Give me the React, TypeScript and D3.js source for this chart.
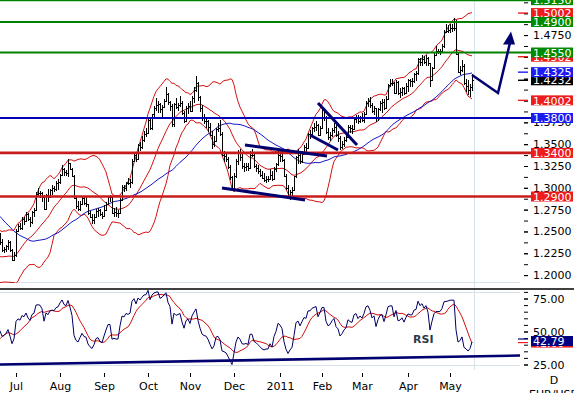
import { useEffect, useRef } from 'react'
import * as d3 from 'd3'

type Bar = [number, number, number] // high, low, close

// closes before the first drawn bar, only used to warm up the indicators
const preCloses = [
  1.3480, 1.3600, 1.3630, 1.3650, 1.3530, 1.3470, 1.3450, 1.3430, 1.3380, 1.3300,
  1.3380, 1.3390, 1.3180, 1.3180, 1.3250, 1.3300, 1.3180, 1.2990, 1.2850, 1.2630,
  1.2750, 1.2800, 1.2670, 1.2640, 1.2570, 1.2390, 1.2370, 1.2230, 1.2400, 1.2520,
  1.2560, 1.2350, 1.2370, 1.2200, 1.2360, 1.2270, 1.2280, 1.2230, 1.2230, 1.2170,
  1.1960, 1.1920, 1.1970, 1.2000, 1.2110, 1.2120, 1.2270, 1.2340, 1.2300, 1.2380,
  1.2390,
]

const firstDay = new Date(2010, 5, 21)

const jun10: Bar[] = [
  [1.2485, 1.2345, 1.2375], [1.2410, 1.2270, 1.2290], [1.2320, 1.2250, 1.2300], [1.2350, 1.2270, 1.2330],
  [1.2405, 1.2290, 1.2380], [1.2385, 1.2270, 1.2290], [1.2300, 1.2160, 1.2170], [1.2270, 1.2160, 1.2230],
]
const jul10: Bar[] = [
  [1.2530, 1.2210, 1.2510], [1.2590, 1.2490, 1.2565], [1.2595, 1.2520, 1.2545], [1.2670, 1.2520, 1.2640],
  [1.2670, 1.2570, 1.2625], [1.2720, 1.2610, 1.2700], [1.2710, 1.2620, 1.2640], [1.2660, 1.2550, 1.2610],
  [1.2730, 1.2580, 1.2720], [1.2765, 1.2670, 1.2745], [1.2950, 1.2730, 1.2930], [1.3000, 1.2890, 1.2940],
  [1.2960, 1.2880, 1.2935], [1.2950, 1.2840, 1.2900], [1.2920, 1.2750, 1.2760], [1.2930, 1.2760, 1.2920],
  [1.2990, 1.2840, 1.2900], [1.2990, 1.2880, 1.2980], [1.3030, 1.2920, 1.2995], [1.3020, 1.2950, 1.2990],
  [1.3080, 1.2960, 1.3050], [1.3100, 1.2980, 1.3065],
]
const aug10: Bar[] = [
  [1.3160, 1.3040, 1.3150], [1.3260, 1.3130, 1.3220], [1.3230, 1.3140, 1.3180], [1.3200, 1.3130, 1.3170],
  [1.3333, 1.3120, 1.3280], [1.3290, 1.3200, 1.3220], [1.3230, 1.3120, 1.3140], [1.3150, 1.2870, 1.2880],
  [1.2900, 1.2760, 1.2790], [1.2850, 1.2740, 1.2760], [1.2850, 1.2730, 1.2820], [1.2900, 1.2800, 1.2880],
  [1.2890, 1.2800, 1.2830], [1.2890, 1.2780, 1.2820], [1.2820, 1.2690, 1.2710], [1.2730, 1.2650, 1.2660],
  [1.2700, 1.2590, 1.2630], [1.2700, 1.2590, 1.2670], [1.2760, 1.2650, 1.2740], [1.2770, 1.2660, 1.2750],
  [1.2760, 1.2680, 1.2700], [1.2720, 1.2640, 1.2680],
]
const sep10: Bar[] = [
  [1.2800, 1.2670, 1.2750], [1.2840, 1.2730, 1.2820], [1.2910, 1.2800, 1.2890], [1.2920, 1.2840, 1.2890],
  [1.2900, 1.2700, 1.2710], [1.2770, 1.2660, 1.2720], [1.2780, 1.2670, 1.2710], [1.2750, 1.2650, 1.2710],
  [1.2880, 1.2700, 1.2860], [1.3030, 1.2850, 1.3010], [1.3030, 1.2950, 1.3000], [1.3070, 1.2960, 1.3060],
  [1.3110, 1.3030, 1.3050], [1.3100, 1.3000, 1.3070], [1.3330, 1.3040, 1.3310], [1.3400, 1.3300, 1.3380],
  [1.3390, 1.3300, 1.3330], [1.3500, 1.3320, 1.3490], [1.3520, 1.3420, 1.3470], [1.3590, 1.3440, 1.3550],
  [1.3650, 1.3520, 1.3620], [1.3680, 1.3580, 1.3630],
]
const oct10: Bar[] = [
  [1.3790, 1.3620, 1.3780], [1.3790, 1.3660, 1.3690], [1.3850, 1.3660, 1.3840], [1.3940, 1.3800, 1.3920],
  [1.4030, 1.3880, 1.3950], [1.3990, 1.3860, 1.3960], [1.3970, 1.3860, 1.3900], [1.3950, 1.3810, 1.3930],
  [1.4020, 1.3920, 1.4000], [1.4160, 1.3990, 1.4070], [1.4090, 1.3950, 1.3980], [1.3990, 1.3880, 1.3940],
  [1.3960, 1.3700, 1.3730], [1.3970, 1.3700, 1.3960], [1.4030, 1.3900, 1.3930], [1.3970, 1.3880, 1.3950],
  [1.4050, 1.3930, 1.3970], [1.3990, 1.3830, 1.3860], [1.3880, 1.3740, 1.3770], [1.3940, 1.3760, 1.3910],
  [1.3970, 1.3850, 1.3940],
]
const nov10: Bar[] = [
  [1.3990, 1.3870, 1.3880], [1.4050, 1.3880, 1.4030], [1.4150, 1.3970, 1.4120], [1.4282, 1.4100, 1.4200],
  [1.4210, 1.4000, 1.4040], [1.4050, 1.3870, 1.3910], [1.3950, 1.3770, 1.3800], [1.3850, 1.3730, 1.3770],
  [1.3810, 1.3690, 1.3760], [1.3780, 1.3640, 1.3700], [1.3740, 1.3590, 1.3600], [1.3650, 1.3450, 1.3500],
  [1.3590, 1.3470, 1.3540], [1.3690, 1.3530, 1.3670], [1.3740, 1.3640, 1.3680], [1.3780, 1.3590, 1.3620],
  [1.3640, 1.3360, 1.3380], [1.3420, 1.3300, 1.3360], [1.3390, 1.3300, 1.3330], [1.3350, 1.3220, 1.3240],
  [1.3260, 1.3090, 1.3120], [1.3130, 1.2970, 1.2990],
]
const dec10: Bar[] = [
  [1.3170, 1.2990, 1.3140], [1.3330, 1.3110, 1.3310], [1.3430, 1.3260, 1.3400], [1.3440, 1.3310, 1.3350],
  [1.3400, 1.3220, 1.3250], [1.3290, 1.3180, 1.3240], [1.3280, 1.3190, 1.3250], [1.3280, 1.3190, 1.3230],
  [1.3420, 1.3220, 1.3380], [1.3450, 1.3350, 1.3380], [1.3400, 1.3230, 1.3250], [1.3270, 1.3180, 1.3230],
  [1.3260, 1.3160, 1.3190], [1.3220, 1.3120, 1.3150], [1.3190, 1.3100, 1.3110], [1.3170, 1.3070, 1.3090],
  [1.3140, 1.3060, 1.3100], [1.3130, 1.3070, 1.3100], [1.3210, 1.3090, 1.3150], [1.3190, 1.3080, 1.3100],
  [1.3240, 1.3090, 1.3210], [1.3280, 1.3180, 1.3270], [1.3430, 1.3250, 1.3380],
]
const jan11: Bar[] = [
  [1.3400, 1.3300, 1.3360], [1.3440, 1.3300, 1.3320], [1.3330, 1.3120, 1.3140], [1.3160, 1.2980, 1.3000],
  [1.3030, 1.2880, 1.2910], [1.2980, 1.2860, 1.2950], [1.3010, 1.2910, 1.2980], [1.3140, 1.2960, 1.3130],
  [1.3370, 1.3110, 1.3350], [1.3440, 1.3270, 1.3380], [1.3400, 1.3270, 1.3310], [1.3420, 1.3290, 1.3390],
  [1.3490, 1.3380, 1.3470], [1.3510, 1.3380, 1.3460], [1.3630, 1.3440, 1.3620], [1.3660, 1.3560, 1.3620],
  [1.3700, 1.3580, 1.3680], [1.3740, 1.3640, 1.3700], [1.3760, 1.3650, 1.3720], [1.3730, 1.3590, 1.3610],
  [1.3710, 1.3590, 1.3690],
]
const feb11: Bar[] = [
  [1.3900, 1.3680, 1.3800], [1.3880, 1.3760, 1.3800], [1.3820, 1.3620, 1.3640], [1.3690, 1.3550, 1.3580],
  [1.3640, 1.3540, 1.3600], [1.3690, 1.3580, 1.3660], [1.3740, 1.3630, 1.3700], [1.3720, 1.3580, 1.3600],
  [1.3650, 1.3530, 1.3570], [1.3590, 1.3430, 1.3470], [1.3540, 1.3450, 1.3500], [1.3580, 1.3470, 1.3550],
  [1.3620, 1.3520, 1.3580], [1.3720, 1.3570, 1.3700], [1.3720, 1.3630, 1.3680], [1.3720, 1.3620, 1.3670],
  [1.3800, 1.3660, 1.3790], [1.3830, 1.3740, 1.3810], [1.3830, 1.3730, 1.3760], [1.3820, 1.3740, 1.3800],
]
const mar11: Bar[] = [
  [1.3860, 1.3750, 1.3780], [1.3870, 1.3740, 1.3850], [1.3990, 1.3830, 1.3970], [1.4030, 1.3930, 1.3990],
  [1.4040, 1.3920, 1.3950], [1.3970, 1.3860, 1.3880], [1.3940, 1.3830, 1.3910], [1.3920, 1.3750, 1.3800],
  [1.3920, 1.3770, 1.3900], [1.4000, 1.3880, 1.3970], [1.4020, 1.3860, 1.3980], [1.4020, 1.3890, 1.3910],
  [1.4050, 1.3900, 1.4020], [1.4190, 1.4010, 1.4180], [1.4250, 1.4160, 1.4200], [1.4250, 1.4170, 1.4200],
  [1.4210, 1.4070, 1.4090], [1.4240, 1.4070, 1.4210], [1.4220, 1.4060, 1.4090], [1.4140, 1.4030, 1.4100],
  [1.4160, 1.4050, 1.4140], [1.4150, 1.4060, 1.4090], [1.4200, 1.4080, 1.4170],
]
const apr11: Bar[] = [
  [1.4250, 1.4100, 1.4230], [1.4250, 1.4160, 1.4220], [1.4260, 1.4150, 1.4220], [1.4320, 1.4200, 1.4300],
  [1.4340, 1.4220, 1.4310], [1.4490, 1.4290, 1.4480], [1.4490, 1.4400, 1.4440], [1.4520, 1.4400, 1.4480],
  [1.4510, 1.4420, 1.4440], [1.4520, 1.4400, 1.4490], [1.4500, 1.4390, 1.4430], [1.4430, 1.4160, 1.4230],
  [1.4380, 1.4220, 1.4370], [1.4540, 1.4360, 1.4520], [1.4620, 1.4510, 1.4570], [1.4590, 1.4530, 1.4570],
  [1.4590, 1.4520, 1.4570], [1.4650, 1.4540, 1.4630], [1.4810, 1.4600, 1.4790], [1.4880, 1.4770, 1.4800],
  [1.4860, 1.4770, 1.4810],
]
const may11: Bar[] = [
  [1.4880, 1.4770, 1.4830], [1.4880, 1.4790, 1.4830], [1.4940, 1.4800, 1.4830], [1.4920, 1.4520, 1.4530],
  [1.4560, 1.4310, 1.4330], [1.4400, 1.4290, 1.4350], [1.4460, 1.4330, 1.4400], [1.4420, 1.4180, 1.4200],
  [1.4250, 1.4100, 1.4170], [1.4230, 1.4060, 1.4120], [1.4190, 1.4040, 1.4150], [1.4300, 1.4110, 1.4232],
]
const months = [jun10, jul10, aug10, sep10, oct10, nov10, dec10, jan11, feb11, mar11, apr11, may11]
const monthLabels = ['Jul', 'Aug', 'Sep', 'Oct', 'Nov', 'Dec', '2011', 'Feb', 'Mar', 'Apr', 'May']

// support / resistance lines
const levelValues = [1.5150, 1.4900, 1.4550, 1.3800, 1.3400, 1.2900]
const levelColors = ['#008200', '#008200', '#008200', '#0000b4', '#c81c1c', '#c81c1c']
const levelBoxColors = ['#008a00', '#008a00', '#008a00', '#1c1cf0', '#ee1c1c', '#ee1c1c']

// last values of the indicators shown on the price axis
const lastValues = [1.5002, 1.4502, 1.4002, 1.4232, 1.4325]
const lastColors = ['#ee1c1c', '#ee1c1c', '#ee1c1c', '#000000', '#1c1cf0']

const priceTicks = [1.2, 1.225, 1.25, 1.275, 1.3, 1.325, 1.35, 1.375, 1.4, 1.425, 1.45, 1.475, 1.5]
const rsiTicks = [25, 50, 75]
const rsiLast = [41.6, 42.79]
const rsiLastColors = ['#ee1c1c', '#000080']

// hand drawn trend lines as [bar index, price]
const trendLines: [number, number][][] = [
  [[122.5, 1.3490], [163.5, 1.3365]],
  [[111, 1.2998], [152.5, 1.2861]],
  [[159, 1.3972], [178.5, 1.3491]],
  [[155, 1.3605], [169, 1.3433]],
]
const arrowPoints: [number, number][] = [[236, 1.4292], [249, 1.4086], [255.5, 1.4790]]
const rsiTrend: [number, number][] = [[0, 25.0], [260, 31.8]]

function sma(v: (number | null)[], n: number) {
  return v.map((_, i) => {
    if (i < n - 1) return null
    const s = v.slice(i - n + 1, i + 1)
    if (s.some(x => x == null)) return null
    return d3.mean(s as number[]) as number
  })
}

function stdev(v: number[], n: number) {
  return v.map((_, i) => {
    if (i < n - 1) return null
    const s = v.slice(i - n + 1, i + 1)
    const m = d3.mean(s) as number
    return Math.sqrt(d3.mean(s, x => (x - m) * (x - m)) as number)
  })
}

function rsi(c: number[], n: number) {
  const out: (number | null)[] = c.map(() => null)
  let ag = 0, al = 0
  for (let i = 1; i < c.length; i++) {
    const ch = c[i] - c[i - 1]
    const g = Math.max(ch, 0), l = Math.max(-ch, 0)
    if (i <= n) {
      ag += g; al += l
      if (i === n) { ag /= n; al /= n; out[i] = 100 - 100 / (1 + ag / al) }
    } else {
      ag = (ag * (n - 1) + g) / n
      al = (al * (n - 1) + l) / n
      out[i] = al === 0 ? 100 : 100 - 100 / (1 + ag / al)
    }
  }
  return out
}

const W = 574
const H = 393
const font = 'DejaVu Sans, Verdana, sans-serif'

export default function App() {
  const svgRef = useRef<SVGSVGElement>(null)

  useEffect(() => {
    if (!svgRef.current) return
    const svg = d3.select(svgRef.current)
    svg.selectAll('*').remove()

    const bars = months.flat()
    const all = [...preCloses, ...bars.map(b => b[2])]
    const off = preCloses.length
    const mid = sma(all, 20)
    const sd = stdev(all, 20)
    const ma = sma(all, 50)
    const r = rsi(all, 14)
    const sig = sma(r, 9)

    // trading days
    const dates: Date[] = []
    const d = new Date(firstDay)
    while (dates.length < bars.length) {
      if (d.getDay() % 6 !== 0) dates.push(new Date(d))
      d.setDate(d.getDate() + 1)
    }
    const monthStarts = dates.map((dt, i) => i).filter(i => i > 0 && dates[i].getMonth() !== dates[i - 1].getMonth())

    const x = d3.scaleLinear().domain([0, 263]).range([0, 526])
    const y = d3.scaleLinear().domain([1.2, 1.515]).range([275.1, 0.15])
    const yr = d3.scaleLinear().domain([25, 75]).range([364.5, 298.5])

    svg.append('rect').attr('width', W).attr('height', H).attr('fill', '#fff')

    const defs = svg.append('defs')
    defs.append('clipPath').attr('id', 'pclip').append('rect').attr('x', 0).attr('y', 0).attr('width', 532).attr('height', 283)
    defs.append('clipPath').attr('id', 'rclip').append('rect').attr('x', 0).attr('y', 290).attr('width', 532).attr('height', 80)

    // frame lines
    const light = '#d6e2ea'
    svg.append('line').attr('x1', 0).attr('x2', 520).attr('y1', 282.5).attr('y2', 282.5).attr('stroke', light)
    svg.append('line').attr('x1', 0).attr('x2', 520).attr('y1', 292.5).attr('y2', 292.5).attr('stroke', light)
    svg.append('line').attr('x1', 0).attr('x2', 520).attr('y1', 365.5).attr('y2', 365.5).attr('stroke', light)
    svg.append('line').attr('x1', 474.5).attr('x2', 474.5).attr('y1', 0).attr('y2', 370).attr('stroke', light)
    svg.append('line').attr('x1', 0).attr('x2', W).attr('y1', 289).attr('y2', 289).attr('stroke', '#000').attr('stroke-width', 1.6)

    const pg = svg.append('g').attr('clip-path', 'url(#pclip)')

    const vis = (arr: (number | null)[]) => arr.slice(off).map((v, i) => ({ i, v }))
    const line = d3.line<{ i: number; v: number | null }>()
      .defined(p => p.v != null)
      .x(p => x(p.i))
      .y(p => y(p.v as number))

    const upper = mid.map((m, i) => (m == null ? null : m + 2 * (sd[i] as number)))
    const lower = mid.map((m, i) => (m == null ? null : m - 2 * (sd[i] as number)))
    ;[upper, mid, lower].forEach(s => {
      pg.append('path').attr('d', line(vis(s))).attr('fill', 'none').attr('stroke', '#d41010').attr('stroke-width', 1)
    })
    pg.append('path').attr('d', line(vis(ma))).attr('fill', 'none').attr('stroke', '#1818c8').attr('stroke-width', 1)

    // OHLC bars
    const bg = pg.append('g').attr('stroke', '#000').attr('stroke-width', 1).attr('shape-rendering', 'crispEdges')
    bars.forEach((b, i) => {
      const open = i === 0 ? preCloses[preCloses.length - 1] : bars[i - 1][2]
      const cx = x(i) + 0.5
      bg.append('line').attr('x1', cx).attr('x2', cx).attr('y1', y(b[0])).attr('y2', y(b[1]))
      bg.append('line').attr('x1', cx - 1.5).attr('x2', cx).attr('y1', Math.round(y(open)) + 0.5).attr('y2', Math.round(y(open)) + 0.5)
      bg.append('line').attr('x1', cx).attr('x2', cx + 1.5).attr('y1', Math.round(y(b[2])) + 0.5).attr('y2', Math.round(y(b[2])) + 0.5)
    })

    // horizontal levels
    levelValues.forEach((v, k) => {
      svg.append('line').attr('x1', 0).attr('x2', 531).attr('y1', y(v)).attr('y2', y(v))
        .attr('stroke', levelColors[k]).attr('stroke-width', levelColors[k] === '#c81c1c' ? 2.6 : 2)
    })

    // drawn trend lines and arrow
    const pl = d3.line<[number, number]>().x(p => x(p[0])).y(p => y(p[1]))
    trendLines.forEach(t => {
      svg.append('path').attr('d', pl(t)).attr('fill', 'none').attr('stroke', '#000070').attr('stroke-width', 3)
    })
    svg.append('path').attr('d', pl(arrowPoints.slice(0, 2).concat([[arrowPoints[2][0], arrowPoints[2][1] - 0.008]])))
      .attr('fill', 'none').attr('stroke', '#000070').attr('stroke-width', 2.5).attr('stroke-linejoin', 'miter')
    const tip = arrowPoints[2]
    const tx = x(tip[0]), ty = y(tip[1])
    svg.append('path').attr('d', `M${tx},${ty} L${tx - 8},${ty + 13} L${tx + 4},${ty + 13} Z`).attr('fill', '#000070')

    // price axis
    const axisFont = (g: d3.Selection<SVGGElement, unknown, null, undefined>) => {
      g.attr('font-family', font).attr('font-size', 11)
      g.select('.domain').remove()
      g.selectAll('text').attr('fill', '#000')
      g.selectAll('line').attr('stroke', '#000')
    }
    svg.append('g').attr('transform', 'translate(524,0)')
      .call(d3.axisRight(y).tickValues(d3.range(1.2, 1.52, 0.0125)).tickSize(4).tickFormat(() => ''))
      .call(axisFont)
    svg.append('g').attr('transform', 'translate(524,0)')
      .call(d3.axisRight(y).tickValues(priceTicks).tickSize(4).tickPadding(5).tickFormat(d3.format('.4f')))
      .call(axisFont)

    const box = (cy: number, text: string, color: string) => {
      svg.append('rect').attr('x', 531).attr('y', cy - 5).attr('width', 42).attr('height', 10).attr('fill', color)
      svg.append('text').attr('x', 533).attr('y', cy + 4.2).attr('font-family', font).attr('font-size', 11)
        .attr('fill', '#fff').text(text)
    }
    lastValues.forEach((v, k) => {
      svg.append('line').attr('x1', 518).attr('x2', 528).attr('y1', y(v)).attr('y2', y(v))
        .attr('stroke', lastColors[k]).attr('stroke-width', 1.4)
    })
    lastValues.forEach((v, k) => box(y(v), v.toFixed(4), lastColors[k]))
    levelValues.forEach((v, k) => box(y(v), v.toFixed(4), levelBoxColors[k]))

    // RSI panel
    const rg = svg.append('g').attr('clip-path', 'url(#rclip)')
    const rl = d3.line<{ i: number; v: number | null }>()
      .defined(p => p.v != null)
      .x(p => x(p.i))
      .y(p => yr(p.v as number))
    rg.append('path').attr('d', rl(vis(sig))).attr('fill', 'none').attr('stroke', '#cc1010').attr('stroke-width', 1)
    rg.append('path').attr('d', rl(vis(r))).attr('fill', 'none').attr('stroke', '#000066').attr('stroke-width', 1)
    const rtl = d3.line<[number, number]>().x(p => x(p[0])).y(p => yr(p[1]))
    rg.append('path').attr('d', rtl(rsiTrend)).attr('fill', 'none').attr('stroke', '#000070').attr('stroke-width', 2.6)

    svg.append('text').attr('x', 413).attr('y', 343).attr('font-family', font).attr('font-size', 11)
      .attr('font-weight', 'bold').attr('fill', '#2b3a48').text('RSI')

    svg.append('g').attr('transform', 'translate(524,0)')
      .call(d3.axisRight(yr).tickValues(d3.range(25, 81, 5)).tickSize(4).tickFormat(() => ''))
      .call(axisFont)
    svg.append('g').attr('transform', 'translate(524,0)')
      .call(d3.axisRight(yr).tickValues(rsiTicks).tickSize(4).tickPadding(5).tickFormat(d3.format('.2f')))
      .call(axisFont)
    rsiLast.forEach((v, k) => {
      svg.append('line').attr('x1', 518).attr('x2', 528).attr('y1', yr(v) - (k === 1 ? 2 : 0)).attr('y2', yr(v) - (k === 1 ? 2 : 0))
        .attr('stroke', rsiLastColors[k]).attr('stroke-width', 1.2)
    })
    rsiLast.forEach((v, k) => box(yr(v), v.toFixed(2), rsiLastColors[k]))

    // time axis
    const tg = svg.append('g').attr('font-family', font).attr('font-size', 11)
    monthStarts.forEach((mi, k) => {
      const mx = Math.round(x(mi)) + 0.5
      tg.append('line').attr('x1', mx).attr('x2', mx).attr('y1', 373).attr('y2', 377).attr('stroke', '#000')
      tg.append('text').attr('x', mx).attr('y', 390).attr('text-anchor', 'middle').attr('fill', '#000').text(monthLabels[k])
    })
    tg.append('text').attr('x', 554).attr('y', 384).attr('text-anchor', 'middle').text('D')
    tg.append('text').attr('x', 554).attr('y', 398).attr('text-anchor', 'middle').text('EUR/USD')
  }, [])

  return <svg ref={svgRef} width={W} height={H} style={{ position: 'absolute', left: 0, top: 0, display: 'block' }} />
}
